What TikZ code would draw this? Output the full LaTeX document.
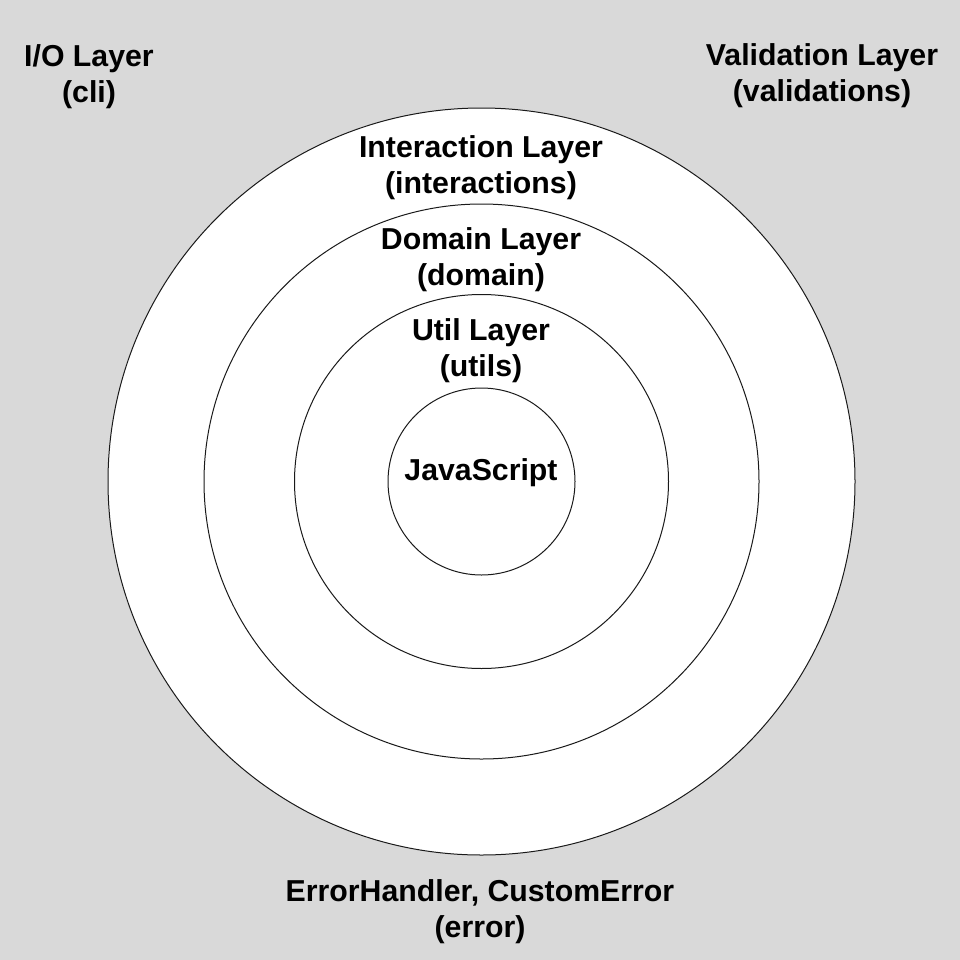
\documentclass[tikz,border=0pt]{standalone}
\usepackage{fontspec}
\setmainfont{Liberation Sans}
\definecolor{bggray}{HTML}{D9D9D9}
\definecolor{ringline}{HTML}{1A1A1A}
\begin{document}
\begin{tikzpicture}[x=0.75pt,y=-0.75pt,
  ring/.style={circle,draw=ringline,line width=0.75pt,fill=white,inner sep=0pt,outer sep=0pt},
  lbl/.style={align=center,inner sep=0pt,font=\fontsize{22.7}{27}\selectfont\bfseries}]
\fill[bggray] (0,0) rectangle (960,960);
\useasboundingbox (0,0) rectangle (960,960);
\node[ring,minimum size=560.25pt] (outer) at (481.5,481.5) {};
\node[ring,minimum size=416.25pt] (domainring) at (481.5,481.5) {};
\node[ring,minimum size=280.5pt] (utilring) at (481.5,481.5) {};
\node[ring,minimum size=140.25pt] (jsring) at (481.5,481.5) {};
\node[lbl] (io) at (89,77) {I/O Layer\\(cli)};
\node[lbl] (val) at (822,76) {Validation Layer\\(validations)};
\node[lbl] (inter) at (481,168) {Interaction Layer\\(interactions)};
\node[lbl] (dom) at (481,260) {Domain Layer\\(domain)};
\node[lbl] (util) at (481,351) {Util Layer\\(utils)};
\node[lbl] (js) at (481,473) {JavaScript};
\node[lbl] (err) at (480,912) {ErrorHandler, CustomError\\(error)};
\end{tikzpicture}
\end{document}
